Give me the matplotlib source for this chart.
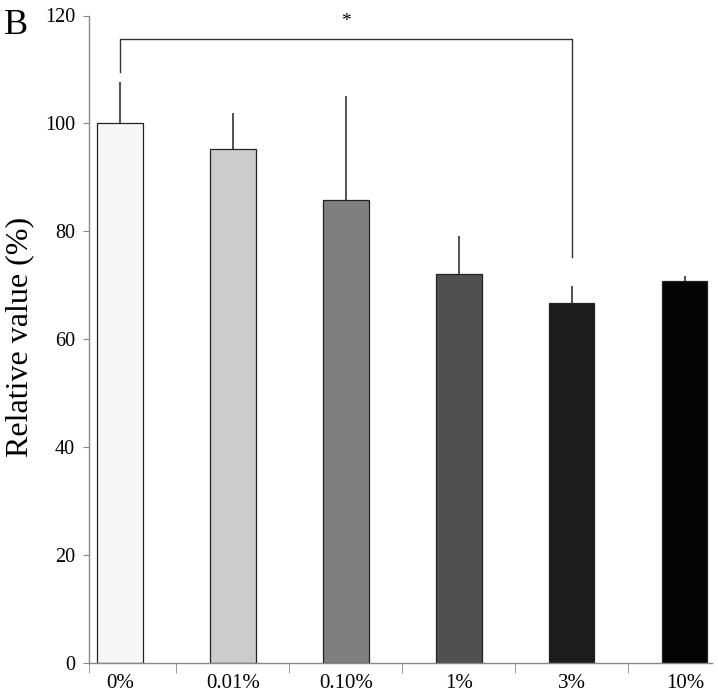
import numpy as np
import matplotlib.pyplot as plt

# values
categories = ['0%', '0.01%', '0.10%', '1%', '3%', '10%']
values = [100.0, 95.2, 85.8, 72.1, 66.8, 70.8]
err_up = [7.7, 6.8, 19.3, 7.0, 3.0, 0.9]
bar_colors = ['#f7f7f7', '#cccccc', '#7f7f7f', '#505050', '#1c1c1c', '#040404']
y_ticks = [0, 20, 40, 60, 80, 100, 120]

# significance bracket between 0% and 3%
sig_left, sig_right = 0, 4
sig_top = 115.6
sig_left_end = 109.5
sig_right_end = 75.2

plt.rcParams['font.family'] = ['Liberation Serif', 'DejaVu Serif']

fig = plt.figure(figsize=(7.18, 6.92), dpi=100)
ax = fig.add_axes([89 / 718, 29 / 692, (712 - 89) / 718, (663 - 15.5) / 692])

x = np.arange(len(categories))
ax.bar(x, values, width=0.4, color=bar_colors, edgecolor='#222222', linewidth=0.9, zorder=2)
ax.errorbar(x, values, yerr=[np.zeros(len(values)), err_up], fmt='none',
            ecolor='#333333', elinewidth=1.2, capsize=0, zorder=3)

# bracket
ax.plot([sig_left, sig_left, sig_right, sig_right],
        [sig_left_end, sig_top, sig_top, sig_right_end],
        color='#333333', linewidth=1.0, clip_on=False)
ax.text((sig_left + sig_right) / 2, 118.8, '*', ha='center', va='center', fontsize=14)

ax.set_xlim(-0.274, 5.24)
ax.set_ylim(0, 120)
ax.set_yticks(y_ticks)
ax.tick_params(axis='y', labelsize=14.5, length=4, color='#888888', pad=6)

ax.set_xticks(x)
ax.set_xticklabels(categories)
ax.tick_params(axis='x', which='major', length=0, labelsize=15, pad=8)
ax.set_xticks([-0.274, 0.5, 1.5, 2.5, 3.5, 4.5], minor=True)
ax.tick_params(axis='x', which='minor', length=7, color='#888888')

for side in ['top', 'right']:
    ax.spines[side].set_visible(False)
for side in ['left', 'bottom']:
    ax.spines[side].set_color('#888888')
    ax.spines[side].set_linewidth(1.0)

fig.text(20 / 718, 1 - 337 / 692, 'Relative value (%)', rotation=90,
         ha='center', va='center', fontsize=23)
fig.text(4 / 718, 1 - 34 / 692, 'B', fontsize=26)

fig.savefig('out.png', dpi=100)
